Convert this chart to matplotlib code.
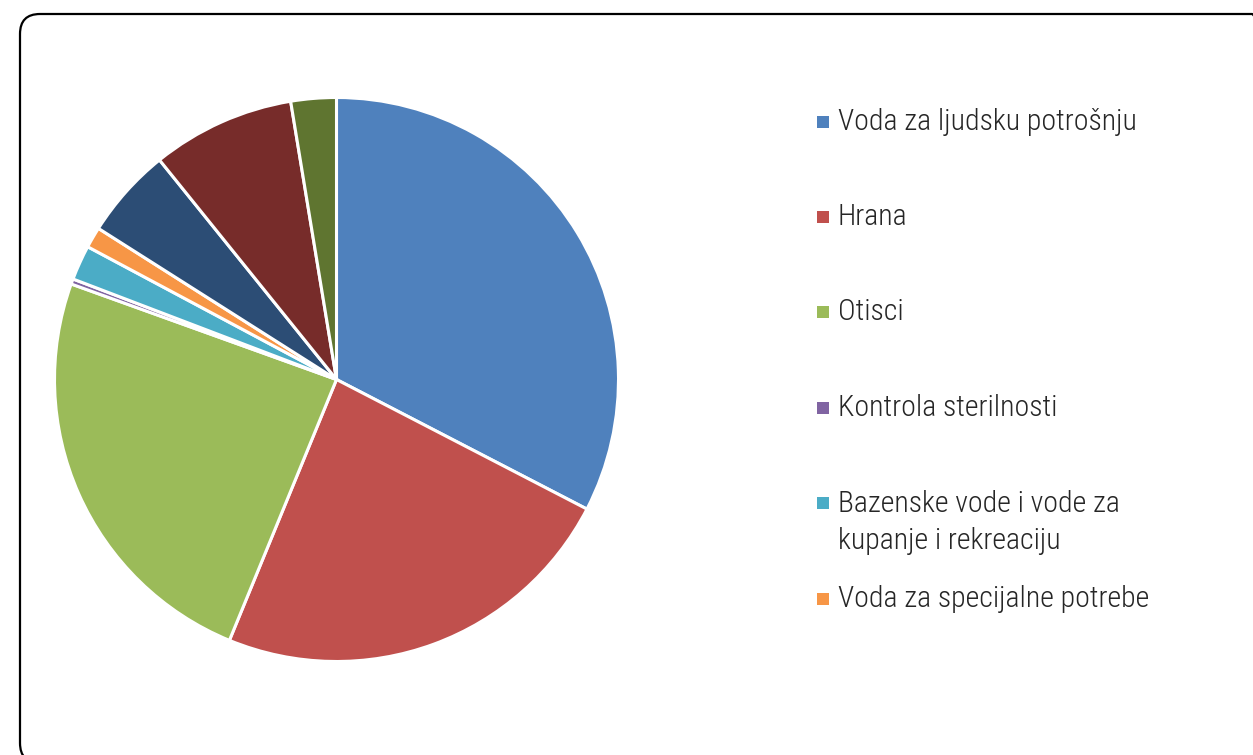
import matplotlib.pyplot as plt
from matplotlib.patches import FancyBboxPatch, Rectangle
from matplotlib.transforms import IdentityTransform

# shares (percent), clockwise from 12 o'clock
values = [32.6, 23.6, 24.3, 0.3, 2.0, 1.2, 5.2, 8.2, 2.6]
colors = ['#4F81BD', '#C0504D', '#9BBB59', '#8064A2', '#4BACC6',
          '#F79646', '#2C4D75', '#772C2A', '#5F7530']

# only the first six categories show up in the legend
legend_labels = ['Voda za ljudsku potrošnju', 'Hrana', 'Otisci',
                 'Kontrola sterilnosti',
                 'Bazenske vode i vode za\nkupanje i rekreaciju',
                 'Voda za specijalne potrebe']

W, H = 1253, 755
fig = plt.figure(figsize=(W / 100, H / 100), dpi=100)

# pie axes: centre (336, 379), radius 282 px
cx, cy, r = 336.5, 379.5, 282
ax = fig.add_axes([(cx - r) / W, (H - cy - r) / H, 2 * r / W, 2 * r / H])
ax.pie(values, colors=colors, startangle=90, counterclock=False,
       wedgeprops={'edgecolor': 'white', 'linewidth': 2.2})
ax.set_aspect('equal')
ax.set_xlim(-1, 1)
ax.set_ylim(-1, 1)

# rounded frame around the chart (runs off the right and bottom edges)
frame = FancyBboxPatch((20, -8), 1252, 749,
                       boxstyle='round,pad=0,rounding_size=20',
                       transform=IdentityTransform(), fill=False,
                       edgecolor='black', linewidth=1.6)
fig.patches.append(frame)

# legend
font = ['Roboto Condensed', 'Liberation Sans Narrow', 'DejaVu Sans']
ys = [122, 217, 312, 408, 503, 599]
for lab, col, y in zip(legend_labels, colors, ys):
    fig.patches.append(Rectangle((817, H - y - 6), 12, 12, facecolor=col,
                                 edgecolor='none', transform=IdentityTransform()))
    nlines = lab.count('\n')
    yc = y + nlines * 39 / 2
    fig.text(838 / W, (H - yc) / H, lab, family=font, fontsize=21.5,
             fontweight='light', color='#262626', va='center', ha='left',
             linespacing=1.42)

fig.savefig('out.png', dpi=100)
